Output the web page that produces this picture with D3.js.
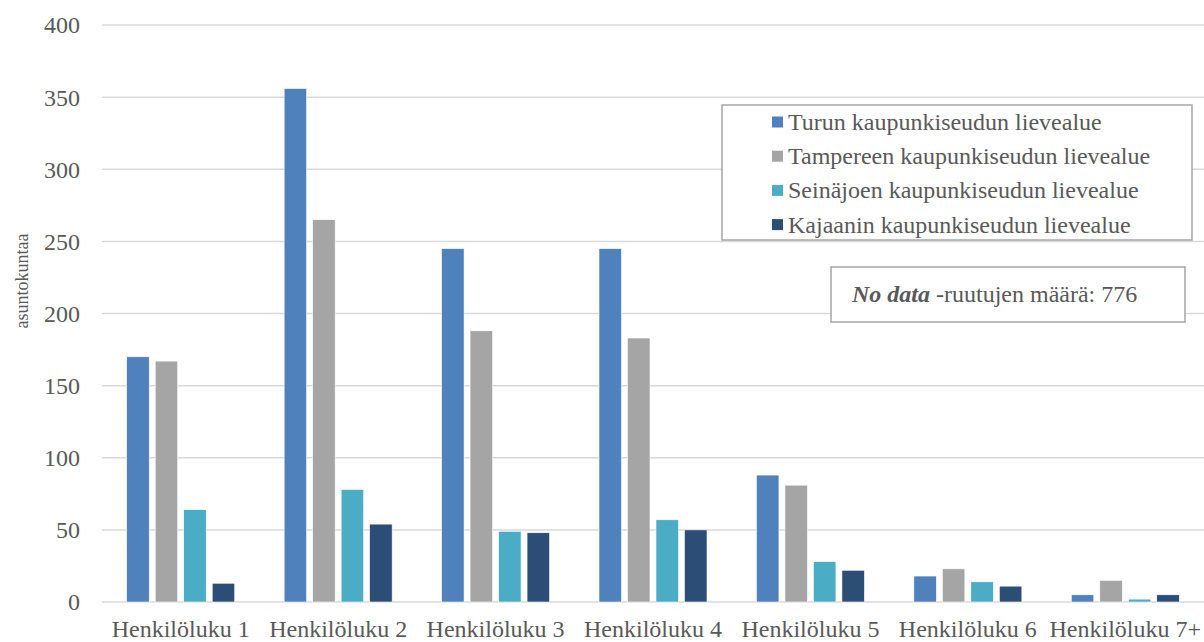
<!DOCTYPE html>
<html>
<head>
<meta charset="utf-8">
<script src="https://cdn.jsdelivr.net/npm/d3@7"></script>
<style>
  html, body { margin: 0; padding: 0; background: #fff; }
  svg { display: block; }
  svg text { font-family: "Liberation Serif", "Times New Roman", serif; }
</style>
</head>
<body>
<svg id="chart" width="1204" height="642"></svg>
<script>
// Household sizes (x categories)
const categories = ["Henkilöluku 1", "Henkilöluku 2", "Henkilöluku 3", "Henkilöluku 4",
                    "Henkilöluku 5", "Henkilöluku 6", "Henkilöluku 7+"];

// Series names and counts of households per region
const seriesNames = ["Turun kaupunkiseudun lievealue", "Tampereen kaupunkiseudun lievealue",
                     "Seinäjoen kaupunkiseudun lievealue", "Kajaanin kaupunkiseudun lievealue"];
const turku     = [170, 356, 245, 245, 88, 18, 5];
const tampere   = [167, 265, 188, 183, 81, 23, 15];
const seinajoki = [64, 78, 49, 57, 28, 14, 2];
const kajaani   = [13, 54, 48, 50, 22, 11, 5];
const seriesValues = [turku, tampere, seinajoki, kajaani];

const yTicks = [0, 50, 100, 150, 200, 250, 300, 350, 400];
const noDataCount = 776;

const colors = ["#4f81bd", "#a5a5a5", "#4bacc6", "#2c4d75"];
const textColor = "#595959";

const svg = d3.select("#chart");
const plot = { left: 102, right: 1204, top: 25, bottom: 602 };

const y = d3.scaleLinear().domain([0, 400]).range([plot.bottom, plot.top]);
const x0 = d3.scaleBand().domain(categories).range([plot.left, plot.right])
  .paddingInner(0.314).paddingOuter(0.157);
const x1 = d3.scaleBand().domain(d3.range(seriesNames.length)).range([0, x0.bandwidth()])
  .paddingInner(0.21).paddingOuter(0);

// Gridlines
svg.append("g").selectAll("line").data(yTicks).join("line")
  .attr("x1", plot.left).attr("x2", plot.right)
  .attr("y1", d => y(d)).attr("y2", d => y(d))
  .attr("stroke", "#d9d9d9").attr("stroke-width", 1.5);

// Y axis labels
const yAxis = svg.append("g").attr("transform", `translate(${plot.left - 22},0)`)
  .call(d3.axisLeft(y).tickValues(yTicks).tickSize(0).tickPadding(0));
yAxis.attr("font-family", null).attr("font-size", null);
yAxis.select(".domain").remove();
yAxis.selectAll("text").attr("font-size", 24).attr("fill", textColor).attr("dy", "0.33em");

// X axis labels
const xAxis = svg.append("g").attr("transform", `translate(0,${plot.bottom})`)
  .call(d3.axisBottom(x0).tickSize(0).tickPadding(0));
xAxis.attr("font-family", null).attr("font-size", null);
xAxis.select(".domain").remove();
xAxis.selectAll("text").attr("font-size", 24).attr("fill", textColor)
  .attr("y", 35).attr("dy", null);

// Y axis title
svg.append("text")
  .attr("transform", `translate(28,281) rotate(-90)`)
  .attr("text-anchor", "middle")
  .attr("font-size", 18).attr("fill", textColor)
  .text("asuntokuntaa");

// Bars
const groups = svg.append("g").selectAll("g").data(categories).join("g")
  .attr("transform", d => `translate(${x0(d)},0)`);
groups.selectAll("rect")
  .data((c, i) => seriesValues.map((vals, s) => ({ s, v: vals[i] })))
  .join("rect")
  .attr("x", d => x1(d.s))
  .attr("width", x1.bandwidth())
  .attr("y", d => y(d.v))
  .attr("height", d => y(0) - y(d.v))
  .attr("fill", d => colors[d.s])
  .attr("stroke", "#ffffff").attr("stroke-width", 0.6);

// Legend
const legend = svg.append("g");
legend.append("rect")
  .attr("x", 722).attr("y", 105).attr("width", 470).attr("height", 135)
  .attr("fill", "#fff").attr("stroke", "#a6a6a6").attr("stroke-width", 1.5);
const items = legend.selectAll("g.item").data(seriesNames).join("g")
  .attr("class", "item")
  .attr("transform", (d, i) => `translate(772,${122 + i * 34.2})`);
items.append("rect").attr("x", 0).attr("y", -5.5).attr("width", 11).attr("height", 11)
  .attr("fill", (d, i) => colors[i]);
items.append("text").attr("x", 16).attr("y", 8)
  .attr("font-size", 24).attr("fill", textColor).text(d => d);

// No data note
svg.append("rect")
  .attr("x", 831).attr("y", 267).attr("width", 354).attr("height", 55)
  .attr("fill", "#fff").attr("stroke", "#a6a6a6").attr("stroke-width", 1.5);
const note = svg.append("text").attr("x", 852).attr("y", 302)
  .attr("font-size", 24).attr("fill", textColor);
note.append("tspan").attr("font-weight", "bold").attr("font-style", "italic").text("No data");
note.append("tspan").text(` -ruutujen määrä: ${noDataCount}`);
</script>
</body>
</html>
